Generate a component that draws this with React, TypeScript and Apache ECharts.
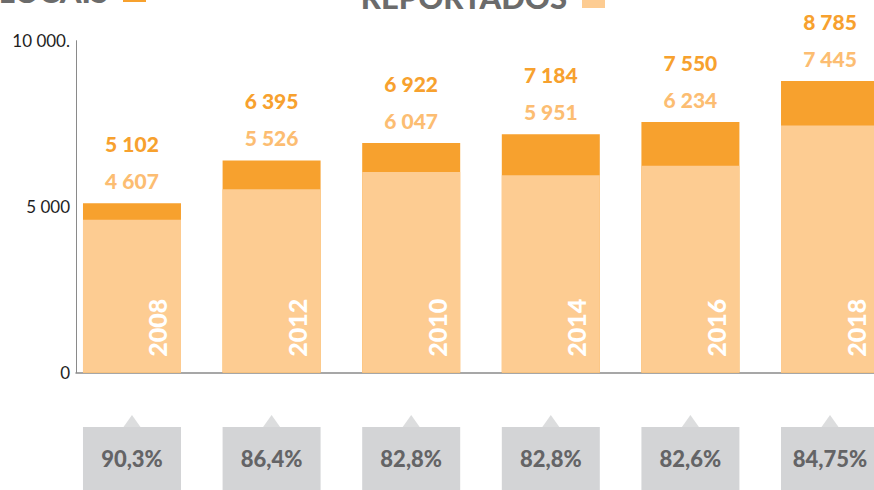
import React, { useEffect, useRef } from "react";
import * as echarts from "echarts";

const years = ["2008", "2012", "2010", "2014", "2016", "2018"];
const totals = [5102, 6395, 6922, 7184, 7550, 8785];
const reported = [4607, 5526, 6047, 5951, 6234, 7445];
const rates = [90.3, 86.4, 82.8, 82.8, 82.6, 84.75];
const yTickLabels = ["0", "5 000", "10 000."];
const legendNames = ["LOCAIS", "REPORTADOS"];

const DARK = "#F7A12E";
const LIGHT = "#FDCC92";
const LIGHT_LABEL = "#FCBD72";
const GRAY_BOX = "#D3D4D6";
const GRAY_TEXT = "#646466";
const FONT = "Lato, 'Noto Sans', sans-serif";

const fmt = (n: number) => String(n).replace(/\B(?=(\d{3})+(?!\d))/g, " ");
const fmtRate = (n: number) => String(n).replace(".", ",") + "%";

export default function App() {
  const ref = useRef<HTMLDivElement>(null);
  useEffect(() => {
    if (!ref.current) return;
    const chart = echarts.init(ref.current, null, { renderer: "svg" });
    const xMin = -0.401;
    const xMax = 5.315;
    const legendText = {
      fontFamily: FONT,
      fontSize: 31,
      fontWeight: 900,
      color: "#6B6B6B",
      lineHeight: 23,
      padding: [0, 10, 0, 0],
    };
    chart.setOption({
      animation: false,
      textStyle: { fontFamily: FONT },
      legend: [
        {
          data: [legendNames[0]],
          right: 728,
          top: -25,
          padding: 0,
          align: "right",
          icon: "rect",
          itemWidth: 23,
          itemHeight: 23,
          selectedMode: false,
          textStyle: legendText,
        },
        {
          data: [legendNames[1]],
          right: 269,
          top: -19,
          padding: 0,
          align: "right",
          icon: "rect",
          itemWidth: 23,
          itemHeight: 23,
          selectedMode: false,
          textStyle: legendText,
        },
      ],
      grid: [
        { left: 76, right: 0, top: 40.7, bottom: 117.3, containLabel: false },
        { left: 76, right: 0, top: 427, height: 73, containLabel: false },
      ],
      xAxis: [
        {
          type: "value",
          gridIndex: 0,
          min: xMin,
          max: xMax,
          axisLine: { show: true, onZero: false, lineStyle: { color: "#8A8A8A", width: 1.5 } },
          axisTick: { show: false },
          axisLabel: { show: false },
          splitLine: { show: false },
        },
        {
          type: "value",
          gridIndex: 1,
          min: xMin,
          max: xMax,
          show: false,
        },
      ],
      yAxis: [
        {
          type: "value",
          gridIndex: 0,
          min: 0,
          max: 10000,
          interval: 5000,
          axisLine: { show: true, onZero: false, lineStyle: { color: "#8A8A8A", width: 1 } },
          axisTick: { show: false },
          splitLine: { show: false },
          axisLabel: {
            margin: 6,
            fontFamily: FONT,
            fontSize: 17,
            color: "#1E1E1E",
            formatter: (v: number) => yTickLabels[Math.round(v / 5000)] ?? "",
          },
        },
        { type: "value", gridIndex: 1, min: 0, max: 1, show: false },
      ],
      series: [
        {
          name: legendNames[0],
          type: "bar",
          xAxisIndex: 0,
          yAxisIndex: 0,
          barWidth: 98,
          barGap: "-100%",
          itemStyle: { color: DARK },
          data: totals.map((v, i) => [i, v]),
          label: {
            show: true,
            position: "top",
            distance: 4,
            formatter: (p: any) =>
              `{t|${fmt(totals[p.dataIndex])}}\n{r|${fmt(reported[p.dataIndex])}}`,
            rich: {
              t: { color: DARK, fontSize: 21, fontWeight: 900, lineHeight: 37, fontFamily: FONT },
              r: { color: LIGHT_LABEL, fontSize: 21, fontWeight: 900, lineHeight: 37, fontFamily: FONT },
            },
          },
        },
        {
          name: legendNames[1],
          type: "bar",
          xAxisIndex: 0,
          yAxisIndex: 0,
          barWidth: 98,
          barGap: "-100%",
          itemStyle: { color: LIGHT },
          data: reported.map((v, i) => [i, v]),
          label: {
            show: true,
            position: "insideBottom",
            distance: 0,
            rotate: 90,
            align: "left",
            verticalAlign: "middle",
            offset: [16, 25.5],
            color: "#FFFFFF",
            fontSize: 25,
            fontWeight: 900,
            fontFamily: FONT,
            formatter: (p: any) => years[p.dataIndex],
          },
        },
        {
          name: "rates",
          type: "bar",
          xAxisIndex: 1,
          yAxisIndex: 1,
          barWidth: 98,
          itemStyle: { color: GRAY_BOX },
          data: rates.map((_, i) => [i, 1]),
          label: {
            show: true,
            position: "inside",
            color: GRAY_TEXT,
            fontSize: 22,
            fontWeight: 900,
            fontFamily: FONT,
            formatter: (p: any) => fmtRate(rates[p.dataIndex]),
          },
        },
        {
          name: "pointer",
          type: "scatter",
          xAxisIndex: 1,
          yAxisIndex: 1,
          clip: false,
          symbol: "triangle",
          symbolSize: [17, 12],
          symbolOffset: [0, -6],
          itemStyle: { color: GRAY_BOX },
          data: rates.map((_, i) => [i, 1]),
        },
      ],
    });
    return () => chart.dispose();
  }, []);
  return (
    <div
      ref={ref}
      style={{ position: "fixed", left: 0, top: 0, width: 874, height: 490, background: "#fff" }}
    />
  );
}
